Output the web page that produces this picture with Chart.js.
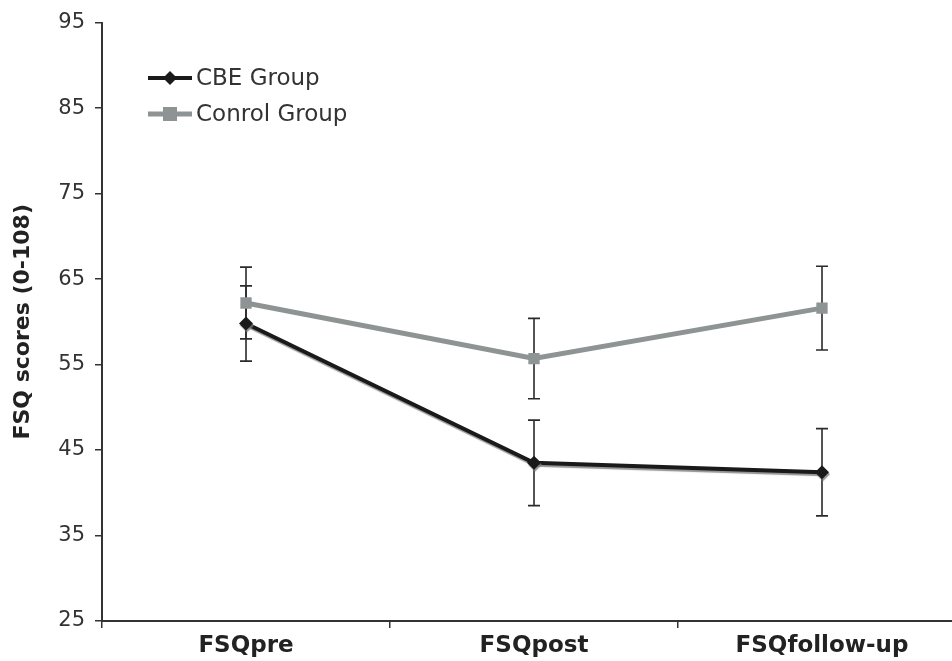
<!DOCTYPE html>
<html>
<head>
<meta charset="utf-8">
<script src="https://cdn.jsdelivr.net/npm/chart.js@4"></script>
<style>
html, body { margin: 0; padding: 0; background: #fff; overflow: hidden; width: 952px; height: 661px; }
#wrap { width: 990px; height: 661px; }
</style>
</head>
<body>
<div id="wrap"><canvas id="fsq_chart"></canvas></div>
<script>
var categories = ["FSQpre", "FSQpost", "FSQfollow-up"];
var cbeValues = [59.8, 43.5, 42.4];
var cbeErrors = [4.4, 5.0, 5.1];
var controlValues = [62.2, 55.7, 61.6];
var controlErrors = [4.2, 4.7, 4.9];
var yTicks = [25, 35, 45, 55, 65, 75, 85, 95];

var FONT = "'DejaVu Sans', Verdana, sans-serif";

var errorBars = {
    id: "errorBars",
    beforeDatasetsDraw: function(chart){
        var ctx = chart.ctx;
        var y = chart.scales.y;
        chart.data.datasets.forEach(function(ds, i){
            var meta = chart.getDatasetMeta(i);
            ctx.save();
            ctx.strokeStyle = "#2b2b2b";
            ctx.lineWidth = 1.6;
            meta.data.forEach(function(pt, j){
                var v = ds.data[j], e = ds.errors[j];
                var top = y.getPixelForValue(v + e);
                var bot = y.getPixelForValue(v - e);
                ctx.beginPath();
                ctx.moveTo(pt.x, top); ctx.lineTo(pt.x, bot);
                ctx.moveTo(pt.x - 6, top); ctx.lineTo(pt.x + 6, top);
                ctx.moveTo(pt.x - 6, bot); ctx.lineTo(pt.x + 6, bot);
                ctx.stroke();
            });
            ctx.restore();
        });
    }
};

var shadowLine = {
    id: "shadowLine",
    beforeDatasetDraw: function(chart, args){
        var ctx = chart.ctx;
        ctx.save();
        if(args.index == 0){
            ctx.shadowColor = "rgba(120,120,120,0.8)";
            ctx.shadowOffsetX = 1;
            ctx.shadowOffsetY = 2;
            ctx.shadowBlur = 1;
        }
    },
    afterDatasetDraw: function(chart){
        chart.ctx.restore();
    }
};

var customLegend = {
    id: "customLegend",
    afterDraw: function(chart){
        var ctx = chart.ctx;
        var rows = [
            {label: "CBE Group", color: "#1a1a1a", width: 4, shape: "diamond", y: 78},
            {label: "Conrol Group", color: "#8e9494", width: 5, shape: "square", y: 114}
        ];
        ctx.save();
        rows.forEach(function(r){
            ctx.strokeStyle = r.color;
            ctx.lineWidth = r.width;
            ctx.beginPath();
            ctx.moveTo(148, r.y); ctx.lineTo(192, r.y);
            ctx.stroke();
            ctx.fillStyle = r.color;
            ctx.beginPath();
            if(r.shape == "diamond"){
                ctx.moveTo(170, r.y - 7); ctx.lineTo(177, r.y); ctx.lineTo(170, r.y + 7); ctx.lineTo(163, r.y);
            }
            else{
                ctx.rect(163, r.y - 7, 14, 14);
            }
            ctx.fill();
            ctx.fillStyle = "#333";
            ctx.font = "23px " + FONT;
            ctx.textBaseline = "middle";
            ctx.fillText(r.label, 196, r.y + 1);
        });
        ctx.restore();
    }
};

var ctxL = document.getElementById("fsq_chart").getContext('2d');
var myLineChart = new Chart(ctxL, {
    type: 'line',
    data: {
        labels: categories,
        datasets: [
            {
                label: "CBE Group",
                data: cbeValues,
                errors: cbeErrors,
                borderColor: "#1a1a1a",
                backgroundColor: "#1a1a1a",
                borderWidth: 4,
                pointStyle: "rectRot",
                pointRadius: 7,
                pointBorderWidth: 0,
                tension: 0
            },
            {
                label: "Conrol Group",
                data: controlValues,
                errors: controlErrors,
                borderColor: "#8e9494",
                backgroundColor: "#8e9494",
                borderWidth: 5,
                pointStyle: "rect",
                pointRadius: 8,
                pointBorderWidth: 0,
                tension: 0
            }
        ]
    },
    options: {
        responsive: true,
        maintainAspectRatio: false,
        animation: false,
        layout: { padding: { top: 21, right: 24, left: 0, bottom: 0 } },
        plugins: {
            legend: { display: false },
            tooltip: { enabled: false }
        },
        scales: {
            x: {
                offset: true,
                grid: { offset: true, drawOnChartArea: false, drawTicks: true, tickLength: 7, color: "#333", lineWidth: 1.5 },
                border: { display: true, color: "#333", width: 2 },
                ticks: { color: "#222", padding: 4, font: { family: FONT, size: 23, weight: "bold" } },
                afterFit: function(scale){ scale.height = 40; }
            },
            y: {
                min: 25,
                max: 95,
                afterBuildTicks: function(scale){
                    scale.ticks = yTicks.map(function(v){ return {value: v}; });
                },
                grid: { drawOnChartArea: false, drawTicks: true, tickLength: 7, color: "#333", lineWidth: 1.5 },
                border: { display: true, color: "#333", width: 2 },
                ticks: { color: "#333", padding: 10, font: { family: FONT, size: 21 } },
                title: { display: true, text: "FSQ scores (0-108)", color: "#222", padding: { top: 10, bottom: 0 }, font: { family: FONT, size: 22, weight: "bold" } },
                afterFit: function(scale){ scale.width = 102; }
            }
        }
    },
    plugins: [errorBars, shadowLine, customLegend]
});
</script>
</body>
</html>
